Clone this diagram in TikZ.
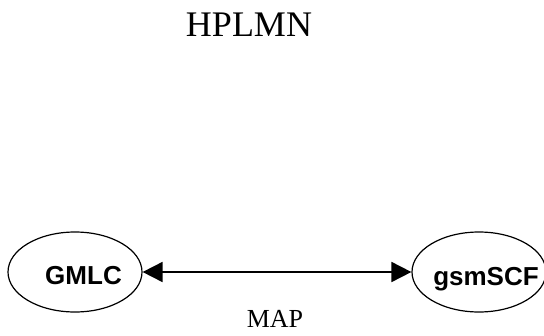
\documentclass[tikz,border=0pt]{standalone}
\usepackage{fontspec}
\setmainfont{Liberation Serif}
\newfontfamily\arialfont{Liberation Sans}
\usetikzlibrary{arrows.meta,shapes.geometric}
\begin{document}
\begin{tikzpicture}[x=1pt,y=-1pt,
  ent/.style={draw=black,line width=1.2pt,ellipse,inner sep=0pt},
  lbl/.style={font=\arialfont\bfseries\fontsize{26}{30}\selectfont,inner sep=0pt},
  link/.style={line width=1.8pt,{Triangle[length=20pt,width=20pt]}-{Triangle[length=20pt,width=20pt]}}]
\useasboundingbox (0,0) rectangle (544,335);
\begin{scope}
\clip (0,0) rectangle (544,335);
\node[ent,minimum width=134pt,minimum height=80pt] (g) at (75,272) {};
\node[ent,minimum width=134pt,minimum height=80pt] (s) at (479,272) {};
\end{scope}
\node[lbl] (gt) at (83.5,276) {GMLC};
\node[lbl,anchor=base] (st) at (486,285) {gsmSCF};
\node[font=\fontsize{36}{40}\selectfont,inner sep=0pt] (h) at (249,25) {HPLMN};
\node[font=\fontsize{26}{30}\selectfont,inner sep=0pt,anchor=base] (m) at (275,327) {MAP};
\draw[link] (g.east) -- (s.west);
\end{tikzpicture}
\end{document}
